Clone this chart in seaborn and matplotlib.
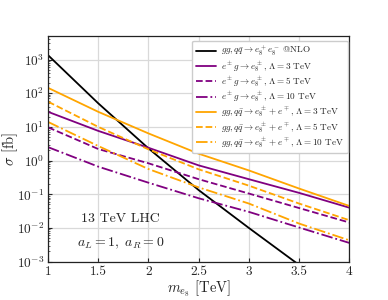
import numpy as np
import pandas as pd
import matplotlib
matplotlib.use("Agg")
import matplotlib.pyplot as plt
import seaborn as sns

# masses in TeV
mass = [1.0, 1.5, 2.0, 2.5, 3.0, 3.5, 4.0]

# cross sections in fb
pair_nlo = [1340, 50, 2.3, 0.133, 0.010, 8e-4, 6e-5]
eg_lam3 = [28, 7.6, 2.4, 0.72, 0.28, 0.11, 0.040]
eg_lam5 = [9.7, 2.2, 0.83, 0.28, 0.105, 0.039, 0.0145]
eg_lam10 = [2.5, 0.66, 0.22, 0.076, 0.030, 0.0103, 0.0036]
assoc_lam3 = [144, 28, 6.4, 1.6, 0.51, 0.148, 0.045]
assoc_lam5 = [56, 10, 2.15, 0.55, 0.18, 0.053, 0.017]
assoc_lam10 = [14, 2.7, 0.56, 0.16, 0.053, 0.0135, 0.0043]

labels = [
    r"$gg,q\bar{q}\to e_8^+e_8^-$ @NLO",
    r"$e^\pm g\to e_8^\pm,\,\Lambda=3$ TeV",
    r"$e^\pm g\to e_8^\pm,\,\Lambda=5$ TeV",
    r"$e^\pm g\to e_8^\pm,\,\Lambda=10$ TeV",
    r"$gg,q\bar{q}\to e_8^\pm+e^\mp,\,\Lambda=3$ TeV",
    r"$gg,q\bar{q}\to e_8^\pm+e^\mp,\,\Lambda=5$ TeV",
    r"$gg,q\bar{q}\to e_8^\pm+e^\mp,\,\Lambda=10$ TeV",
]
series = [pair_nlo, eg_lam3, eg_lam5, eg_lam10, assoc_lam3, assoc_lam5, assoc_lam10]
colors = ["black", "purple", "purple", "purple", "orange", "orange", "orange"]
styles = ["-", "-", "--", "-.", "-", "--", "-."]

x_ticks = [1, 1.5, 2, 2.5, 3, 3.5, 4]
x_ticklabels = ["1", "1.5", "2", "2.5", "3", "3.5", "4"]
y_ticks = [1e-3, 1e-2, 1e-1, 1e0, 1e1, 1e2, 1e3]

sns.set_style("whitegrid")
plt.rcParams["font.family"] = "serif"
plt.rcParams["font.serif"] = ["cmr10", "DejaVu Serif"]
plt.rcParams["mathtext.fontset"] = "cm"
plt.rcParams["axes.formatter.use_mathtext"] = True

fig = plt.figure(figsize=(3.88, 3.0), dpi=100)
ax = fig.add_axes([0.124, 0.128, 0.776, 0.752])

for lab, vals, c, ls in zip(labels, series, colors, styles):
    df = pd.DataFrame({"m": mass, "sigma": vals})
    sns.lineplot(data=df, x="m", y="sigma", color=c, linestyle=ls, lw=1.3, label=lab, ax=ax)

ax.set_yscale("log")
ax.set_xlim(1, 4)
ax.set_ylim(1e-3, 5e3)
ax.set_xticks(x_ticks)
ax.set_xticklabels(x_ticklabels)
ax.set_yticks(y_ticks)
ax.yaxis.set_minor_locator(matplotlib.ticker.LogLocator(base=10, subs=np.arange(2, 10), numticks=20))
ax.yaxis.set_minor_formatter(matplotlib.ticker.NullFormatter())
ax.set_xlabel(r"$m_{e_8}$ [TeV]", fontsize=10.5)
ax.set_ylabel(r"$\sigma$ [fb]", fontsize=10.5)
ax.xaxis.set_label_coords(0.5, -0.075)
ax.yaxis.set_label_coords(-0.095, 0.5)
ax.tick_params(axis="both", labelsize=9.6, direction="in", length=3, width=0.8, left=True, bottom=True, pad=3)
ax.tick_params(axis="y", which="minor", direction="in", length=1.5, width=0.5, left=True)
ax.grid(True, which="major", color="#d9d9d9", lw=0.9)
for s in ax.spines.values():
    s.set_color("#222222")
    s.set_linewidth(0.9)

ax.text(1.72, 1.8e-2, "13 TeV LHC", ha="center", va="center", fontsize=10)
ax.text(1.72, 3.5e-3, r"$a_L=1,\ a_R=0$", ha="center", va="center", fontsize=10)

ax.legend(loc="upper right", fontsize=6.6, frameon=True, framealpha=1, edgecolor="#cccccc",
          handlelength=2.2, borderpad=0.4, labelspacing=0.05, handletextpad=0.6,
          bbox_to_anchor=(1.01, 1.0))

fig.savefig("out.png", dpi=100)
